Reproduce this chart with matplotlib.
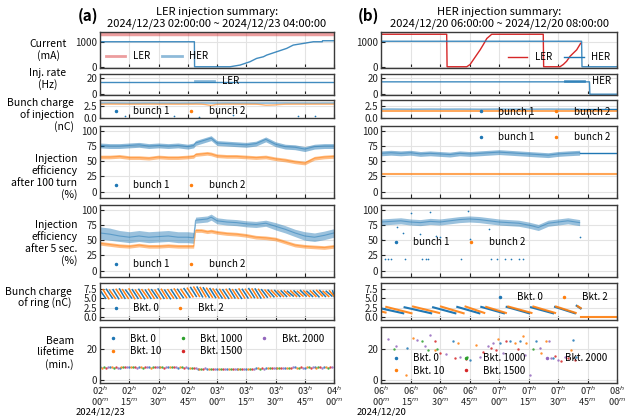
import matplotlib
matplotlib.use('Agg')
import matplotlib.pyplot as plt
import numpy as np
from matplotlib.lines import Line2D

plt.rcParams['font.family'] = ['Noto Sans CJK JP', 'DejaVu Sans']
plt.rcParams['axes.unicode_minus'] = False

C0, C1, C2, C3, C4 = '#1f77b4', '#ff7f0e', '#2ca02c', '#d62728', '#9467bd'

# ---------------- data (minutes from window start) ----------------
xtick_min = [0, 15, 30, 45, 60, 75, 90, 105, 120]
xlabels_a = ["02$^h$\n00$^m$", "02$^h$\n15$^m$", "02$^h$\n30$^m$", "02$^h$\n45$^m$",
             "03$^h$\n00$^m$", "03$^h$\n15$^m$", "03$^h$\n30$^m$", "03$^h$\n45$^m$", "04$^h$\n00$^m$"]
xlabels_b = ["06$^h$\n00$^m$", "06$^h$\n15$^m$", "06$^h$\n30$^m$", "06$^h$\n45$^m$",
             "07$^h$\n00$^m$", "07$^h$\n15$^m$", "07$^h$\n30$^m$", "07$^h$\n45$^m$", "08$^h$\n00$^m$"]

# Current (mA)
ler_cur_a_t = [0, 120]
ler_cur_a_v = [1320, 1320]
her_cur_a_t = [0, 48.4, 48.5, 66.7, 71.8, 76.9, 80.3, 83.8, 85.5, 90.6, 95.7, 99.1, 104.3, 109.4, 114.0, 114.1, 120]
her_cur_a_v = [1000, 1000, 0, 0, 67, 200, 333, 400, 467, 600, 733, 867, 933, 1000, 1000, 1040, 1040]
ler_cur_b_t = [0, 33.4, 33.6, 43.6, 45.3, 47.0, 48.7, 50.4, 52.1, 53.8, 56.3, 82.5, 82.7, 91.0, 92.7, 94.4, 96.1, 97.8, 99.5, 101.5]
ler_cur_b_v = [1300, 1300, 0, 0, 91, 286, 481, 675, 896, 1130, 1300, 1300, 0, 0, 91, 221, 416, 546, 676, 936]
her_cur_b_t = [0, 102.0, 102.2, 120]
her_cur_b_v = [1020, 1020, 0, 0]

# Injection rate (Hz)
ler_rate_a_t = [0, 120]
ler_rate_a_v = [15.6, 15.6]
her_rate_b_t = [0, 106.0, 106.2, 120]
her_rate_b_v = [15.6, 15.6, 0, 0]

# LER clouds (a)
ta = [0, 5, 10, 15, 20, 25, 30, 35, 40, 45, 48, 49, 52, 55, 57, 60, 65, 70, 75, 80, 85, 90, 95, 100, 105, 110, 115, 120]
qa_b1 = [3.15, 3.16, 3.15, 3.14, 3.15, 3.16, 3.15, 3.15, 3.14, 3.15, 3.15, 3.16, 3.17, 3.16, 3.15, 3.15, 3.16, 3.15, 3.15, 3.14, 3.15, 3.15, 3.16, 3.15, 3.15, 3.14, 3.15, 3.15]
qa_b2 = [2.92, 2.93, 2.92, 2.91, 2.92, 2.93, 2.92, 2.92, 2.91, 2.92, 2.92, 2.93, 2.90, 2.75, 2.65, 2.88, 2.92, 2.92, 2.91, 2.90, 2.70, 2.75, 2.90, 2.92, 2.91, 2.92, 2.92, 2.92]
qa_out_t = [12.8, 38.0, 51.0, 68.0, 101.7, 110.0]
qa_out_v = [0.40, 0.30, 0.20, 0.50, 0.30, 0.35]

e100a_b1 = [76, 75, 75, 76, 77, 75, 76, 75, 76, 74, 76, 80, 83, 86, 88, 80, 79, 78, 77, 79, 86, 78, 74, 73, 70, 74, 75, 75]
e100a_b2 = [57, 57, 58, 56, 56, 55, 57, 56, 56, 57, 58, 61, 62, 63, 62, 59, 58, 58, 57, 56, 57, 54, 52, 49, 47, 55, 57, 58]
e5a_b1 = [62, 60, 57, 55, 57, 55, 56, 57, 55, 55, 54, 83, 84, 85, 88, 82, 80, 79, 77, 76, 78, 73, 68, 62, 57, 55, 58, 62]
e5a_b1_sp = [10, 10, 9, 9, 9, 9, 9, 9, 9, 9, 9, 5, 5, 5, 5, 5, 5, 5, 5, 5, 5, 6, 6, 6, 7, 7, 7, 7]
e5a_b2 = [45, 43, 41, 40, 42, 40, 40, 41, 40, 40, 40, 66, 66, 64, 65, 63, 61, 60, 58, 55, 54, 52, 47, 42, 40, 39, 38, 40]

# HER clouds (b)
tb = [0, 5, 10, 15, 20, 25, 30, 35, 40, 45, 50, 55, 60, 65, 70, 75, 80, 85, 90, 95, 101]
qb_b1 = [1.85, 1.86, 1.85, 1.84, 1.85, 1.86, 1.85, 1.85, 1.86, 1.85, 1.84, 1.85, 1.86, 1.85, 1.85, 1.84, 1.85, 1.86, 1.85, 1.85, 1.85]
qb_b1_tail = 1.88
qb_b2_const = 1.50
e100b_b1 = [63, 64, 63, 64, 62, 63, 62, 61, 63, 62, 63, 64, 65, 64, 63, 62, 61, 60, 62, 63, 64]
e100b_b1_tail = 63
e100b_b2_const = 29
e5b_b1 = [80, 81, 82, 80, 79, 81, 80, 82, 84, 85, 84, 82, 80, 79, 78, 75, 71, 78, 80, 82, 79]
e5b_out_t = [2, 3.5, 5, 12, 21, 23, 24, 40.5, 56, 59, 63, 66, 70, 72, 15, 25, 44, 8, 11, 20, 28, 45, 30, 55, 101, 0]
e5b_out_v = [19.5, 19, 19.5, 19.5, 19, 19, 19.5, 19, 19.5, 19, 19, 19, 19, 19.5, 95, 97, 98, 72, 62, 60, 57, 52, 55, 68, 55, 52]

# Ring bunch charge (a): tooth start times, tops, bottoms
ra0_t = [0.0, 3.3, 6.7, 10.0, 13.2, 16.6, 19.9, 23.3, 26.5, 29.8, 33.2, 36.5, 39.8, 43.1, 46.5, 49.8, 53.0, 56.4, 59.7,
         63.0, 66.4, 69.6, 73.0, 76.3, 79.6, 82.9, 86.2, 89.6, 92.9, 96.1, 99.5, 102.8, 106.1, 109.4, 112.7, 116.0, 119.3]
ra0_top = [7.2, 7.4, 7.3, 7.5, 7.2, 7.3, 7.4, 7.2, 7.3, 7.5, 7.2, 7.3, 7.4, 7.6, 7.9, 8.0, 7.8, 7.6, 7.4,
           7.3, 7.5, 7.3, 7.4, 7.6, 7.5, 7.3, 7.2, 7.1, 7.0, 6.9, 7.0, 7.1, 6.9, 7.0, 7.1, 6.9, 7.0]
ra0_bot = [5.0, 5.1, 4.9, 5.0, 5.1, 5.0, 4.9, 5.0, 5.1, 5.0, 4.9, 5.0, 5.2, 5.3, 5.5, 5.4, 5.3, 5.2, 5.1,
           5.0, 5.1, 5.0, 5.1, 5.2, 5.1, 5.3, 5.4, 5.5, 5.5, 5.6, 5.5, 5.6, 5.5, 5.4, 5.5, 5.6, 5.5]
ra2_t = [1.6, 4.9, 8.3, 11.6, 14.9, 18.2, 21.5, 24.9, 28.2, 31.5, 34.8, 38.1, 41.5, 44.8, 48.1, 51.4, 54.7, 58.0,
         61.4, 64.7, 68.0, 71.3, 74.6, 78.0, 81.3, 84.6, 87.9, 91.2, 94.5, 97.8, 101.2, 104.5, 107.8, 111.1, 114.4, 117.7]
ra2_top = [7.3, 7.2, 7.4, 7.3, 7.5, 7.2, 7.3, 7.4, 7.2, 7.4, 7.3, 7.5, 7.4, 7.7, 8.0, 7.9, 7.7, 7.5,
           7.4, 7.4, 7.3, 7.5, 7.4, 7.5, 7.4, 7.2, 7.1, 7.0, 7.0, 7.0, 6.9, 7.0, 7.0, 7.1, 6.9, 7.0]
ra2_bot = [4.9, 5.0, 5.1, 5.0, 4.9, 5.0, 5.1, 5.0, 4.9, 5.0, 5.1, 5.0, 5.2, 5.4, 5.5, 5.4, 5.3, 5.1,
           5.0, 5.1, 5.0, 5.1, 5.2, 5.1, 5.2, 5.4, 5.5, 5.5, 5.6, 5.5, 5.6, 5.5, 5.5, 5.6, 5.5, 5.5]

# Ring bunch charge (b)
rb0_t0 = [0.0, 12.0, 26.5, 38.8, 51.0, 63.9, 76.3, 88.5, 99.5]
rb0_t1 = [11.3, 25.5, 37.8, 50.0, 62.5, 75.3, 87.5, 98.6, 101.5]
rb0_top = [2.3, 2.6, 2.6, 2.7, 2.7, 2.7, 2.6, 2.7, 3.0]
rb0_bot = [1.0, 1.0, 1.0, 1.0, 1.0, 1.0, 1.0, 1.0, 2.3]
rb2_t0 = [0.0, 2.7, 16.3, 30.5, 43.0, 53.5, 64.7, 77.5, 89.0, 100.0]
rb2_t1 = [2.3, 15.5, 29.5, 42.0, 52.5, 63.5, 76.5, 88.5, 99.0, 101.5]
rb2_top = [1.5, 2.7, 2.8, 2.8, 2.8, 2.7, 2.8, 2.8, 2.8, 2.9]
rb2_bot = [1.2, 1.0, 1.1, 1.0, 1.1, 1.1, 1.1, 1.1, 1.1, 2.4]
rb2_tail_t = [101.5, 120]
rb2_tail_v = [0.0, 0.0]

# Lifetime (a), per bucket
lt_a_t = [0, 5, 10, 15, 20, 25, 30, 35, 40, 45, 50, 55, 60, 65, 70, 75, 80, 85, 90, 95, 100, 105, 110, 115]
lt_a = {
    'Bkt. 0':    [8.2, 8.4, 8.1, 8.6, 8.3, 8.5, 8.2, 8.4, 8.0, 7.6, 7.2, 7.0, 6.9, 7.1, 7.0, 7.3, 7.6, 7.9, 7.8, 8.0, 8.2, 8.1, 8.3, 8.2],
    'Bkt. 10':   [7.9, 8.3, 8.5, 8.2, 8.7, 8.1, 8.4, 8.6, 8.2, 7.8, 7.4, 7.1, 7.0, 6.8, 7.2, 7.1, 7.5, 7.7, 8.0, 7.8, 8.1, 8.3, 8.0, 8.4],
    'Bkt. 1000': [8.4, 8.0, 8.3, 8.5, 8.1, 8.7, 8.6, 8.2, 8.3, 7.7, 7.3, 7.2, 7.1, 7.0, 6.9, 7.4, 7.4, 7.8, 7.9, 8.1, 7.9, 8.2, 8.4, 8.1],
    'Bkt. 1500': [8.1, 8.5, 8.2, 8.3, 8.6, 8.4, 8.1, 8.5, 8.1, 7.5, 7.1, 6.9, 7.2, 7.0, 7.1, 7.2, 7.7, 7.6, 8.1, 7.9, 8.3, 8.0, 8.2, 8.5],
    'Bkt. 2000': [8.3, 8.1, 8.4, 8.0, 8.4, 8.2, 8.5, 8.3, 8.4, 7.9, 7.5, 7.3, 6.8, 7.2, 7.0, 7.0, 7.3, 8.0, 7.7, 8.2, 8.0, 8.4, 8.1, 8.3],
}
lt_a_offset = {'Bkt. 0': 0.0, 'Bkt. 10': 1.0, 'Bkt. 1000': 2.0, 'Bkt. 1500': 3.0, 'Bkt. 2000': 4.0}

# Lifetime (b), sparse
lt_b = {
    'Bkt. 0':    ([13.1, 36.6, 45.0, 60.3, 65.4, 70.5, 79.0, 87.5, 97.6, 99.4],
                  [20.7, 25.1, 12.9, 24.0, 25.1, 25.6, 25.6, 14.0, 26.2, 15.1]),
    'Bkt. 10':   ([12.8, 16.2, 27.3, 39.2, 48.4, 59.4, 67.9, 72.2, 73.9, 81.5, 84.1, 96.8],
                  [3.3, 27.3, 19.6, 24.0, 22.9, 26.7, 24.0, 28.4, 24.0, 17.3, 25.1, 19.6]),
    'Bkt. 1000': ([6.8, 20.6, 24.0, 28.5, 43.7, 77.3],
                  [20.0, 25.1, 19.6, 20.0, 15.1, 20.0]),
    'Bkt. 1500': ([27.3, 29.9, 37.5, 43.0, 51.8, 55.7, 58.3, 63.7, 69.6, 88.3, 91.7, 95.1, 98.5],
                  [25.6, 17.3, 14.4, 13.6, 18.0, 20.7, 19.6, 25.1, 20.0, 15.8, 12.4, 14.0, 12.9]),
    'Bkt. 2000': ([3.7, 7.7, 18.1, 22.3, 24.8, 33.3, 40.0, 50.1, 54.4, 56.9, 62.0, 73.0, 75.9, 80.7, 85.4, 86.6, 90.0, 93.4],
                  [26.7, 22.0, 26.2, 21.8, 29.1, 16.9, 14.7, 14.9, 21.8, 24.0, 17.3, 16.2, 2.9, 20.7, 25.1, 14.4, 12.9, 14.7]),
}
bkt_colors = {'Bkt. 0': C0, 'Bkt. 10': C1, 'Bkt. 1000': C2, 'Bkt. 1500': C3, 'Bkt. 2000': C4}

# ---------------- layout ----------------
W, H = 628, 416
fig = plt.figure(figsize=(W / 100, H / 100), dpi=100)
rows = [(32, 68), (74, 95), (100, 118), (126, 198), (205, 277), (283, 320), (327, 383)]
cols = [(100, 334), (381, 617)]
ylims = [(-50, 1390), (-1, 25.5), (-0.1, 3.75), (-10.5, 108), (-10.5, 108), (-0.8, 9.1), (-2, 34.5)]
yticks = [[0, 1000], [0, 20], [0.0, 2.5], [0, 25, 50, 75, 100], [0, 25, 50, 75, 100],
          [0.0, 2.5, 5.0, 7.5], [0, 20]]
ytl = [['0', '1000'], ['0', '20'], ['0.0', '2.5'], ['0', '25', '50', '75', '100'], ['0', '25', '50', '75', '100'],
       ['0.0', '2.5', '5.0', '7.5'], ['0', '20']]

axes = [[None] * 7 for _ in range(2)]
for c in range(2):
    for r in range(7):
        x0, x1 = cols[c]
        y0, y1 = rows[r]
        ax = fig.add_axes([x0 / W, 1 - y1 / H, (x1 - x0) / W, (y1 - y0) / H])
        ax.set_xlim(0, 120)
        ax.set_ylim(*ylims[r])
        ax.set_xticks(xtick_min)
        ax.set_yticks(yticks[r])
        ax.set_yticklabels(ytl[r])
        ax.grid(True, color='#e3e3e3', lw=0.8)
        ax.set_axisbelow(True)
        for s in ax.spines.values():
            s.set_color('#3a3a3a')
            s.set_linewidth(1.0)
        ax.tick_params(direction='in', length=3, width=0.8, labelsize=7, colors='#222222', pad=2)
        if r < 6:
            ax.set_xticklabels([])
        else:
            ax.tick_params(axis='x', pad=1.5)
            ax.set_xticklabels(xlabels_a if c == 0 else xlabels_b, fontsize=6.6, linespacing=0.8)
        axes[c][r] = ax


def leg(ax, handles, labels, x_text, y, ncol):
    ax.legend(handles, labels, loc='center left', bbox_to_anchor=((x_text - 27) / W, 1 - y / H),
              bbox_transform=fig.transFigure, ncol=ncol, frameon=False, fontsize=7, borderpad=0,
              borderaxespad=0, handlelength=2.0, handletextpad=0.8, columnspacing=1.2, labelspacing=0.25)


def mk(color):
    return Line2D([], [], marker='.', ls='none', color=color, markersize=3)


def cloud(ax, t, v, sp, color, alpha=0.5):
    t = np.asarray(t, float)
    v = np.asarray(v, float)
    sp = np.broadcast_to(np.asarray(sp, float), v.shape)
    ax.fill_between(t, v - sp, v + sp, color=color, alpha=alpha, lw=0)
    ax.plot(t, v, color=color, lw=0.8, alpha=0.5)


# Row 1: current
ax = axes[0][0]
ax.plot(ler_cur_a_t, ler_cur_a_v, color=C3, lw=2.5, alpha=0.45)
ax.plot(her_cur_a_t, her_cur_a_v, color=C0, lw=1.0, alpha=0.85)
leg(ax, [Line2D([], [], color=C3, lw=2, alpha=0.45), Line2D([], [], color=C0, lw=2, alpha=0.5)],
    ['LER', 'HER'], 133, 56, 2)
ax = axes[1][0]
ax.plot(ler_cur_b_t, ler_cur_b_v, color=C3, lw=1.0)
ax.plot(her_cur_b_t, her_cur_b_v, color=C0, lw=1.0, alpha=0.85)
leg(ax, [Line2D([], [], color=C3, lw=1), Line2D([], [], color=C0, lw=1)], ['LER', 'HER'], 535, 57, 2)

# Row 2: injection rate
ax = axes[0][1]
ax.plot(ler_rate_a_t, ler_rate_a_v, color=C0, lw=1.0, alpha=0.85)
leg(ax, [Line2D([], [], color=C0, lw=2, alpha=0.5)], ['LER'], 222, 81, 1)
ax = axes[1][1]
ax.plot(her_rate_b_t, her_rate_b_v, color=C0, lw=1.0, alpha=0.85)
leg(ax, [Line2D([], [], color=C0, lw=2, alpha=0.7)], ['HER'], 592, 81, 1)

# Row 3: bunch charge of injection
ax = axes[0][2]
cloud(ax, ta, qa_b1, 0.08, C0)
cloud(ax, ta, qa_b2, 0.08, C1)
ax.scatter(qa_out_t, qa_out_v, s=1.5, color=C0, lw=0)
leg(ax, [mk(C0), mk(C1)], ['bunch 1', 'bunch 2'], 133, 111, 2)
ax = axes[1][2]
cloud(ax, tb, qb_b1, 0.1, C0)
ax.plot([tb[-1], 120], [qb_b1_tail, qb_b1_tail], color=C0, lw=1.0)
ax.plot([0, 120], [qb_b2_const, qb_b2_const], color=C1, lw=1.2, alpha=0.8)
leg(ax, [mk(C0), mk(C1)], ['bunch 1', 'bunch 2'], 498, 111.7, 2)

# Row 4: injection efficiency after 100 turn
ax = axes[0][3]
cloud(ax, ta, e100a_b1, 4, C0)
cloud(ax, ta, e100a_b2, 3, C1)
leg(ax, [mk(C0), mk(C1)], ['bunch 1', 'bunch 2'], 133, 185, 2)
ax = axes[1][3]
cloud(ax, tb, e100b_b1, 4, C0)
ax.plot([tb[-1], 120], [e100b_b1_tail, e100b_b1_tail], color=C0, lw=1.0)
ax.plot([0, 120], [e100b_b2_const, e100b_b2_const], color=C1, lw=1.5, alpha=0.7)
leg(ax, [mk(C0), mk(C1)], ['bunch 1', 'bunch 2'], 498, 137, 2)

# Row 5: injection efficiency after 5 sec
ax = axes[0][4]
cloud(ax, ta, e5a_b1, e5a_b1_sp, C0, alpha=0.45)
cloud(ax, ta, e5a_b2, 3, C1)
leg(ax, [mk(C0), mk(C1)], ['bunch 1', 'bunch 2'], 133, 264, 2)
ax = axes[1][4]
cloud(ax, tb, e5b_b1, 5, C0, alpha=0.45)
ax.scatter(e5b_out_t, e5b_out_v, s=1.5, color=C0, lw=0)
leg(ax, [mk(C0), mk(C1)], ['bunch 1', 'bunch 2'], 413, 242, 2)

# Row 6: bunch charge of ring
ax = axes[0][5]
ends0 = ra0_t[1:] + [120.5]
for t0, t1, a, b in zip(ra0_t, ends0, ra0_top, ra0_bot):
    ax.plot([t0, t1 - 0.4], [a, b], color=C0, lw=1.1)
ends2 = ra2_t[1:] + [120.5]
for t0, t1, a, b in zip(ra2_t, ends2, ra2_top, ra2_bot):
    ax.plot([t0, t1 - 0.4], [a, b], color=C1, lw=1.1)
leg(ax, [mk(C0), mk(C1)], ['Bkt. 0', 'Bkt. 2'], 133, 308, 2)
ax = axes[1][5]
for t0, t1, a, b in zip(rb0_t0, rb0_t1, rb0_top, rb0_bot):
    ax.plot([t0, t1], [a, b], color=C0, lw=1.5)
for t0, t1, a, b in zip(rb2_t0, rb2_t1, rb2_top, rb2_bot):
    ax.plot([t0, t1], [a, b], color=C1, lw=1.5, alpha=0.9)
ax.plot(rb2_tail_t, rb2_tail_v, color=C1, lw=1.5, alpha=0.9)
leg(ax, [mk(C0), mk(C1)], ['Bkt. 0', 'Bkt. 2'], 517, 297, 2)

# Row 7: beam lifetime
names = ['Bkt. 0', 'Bkt. 10', 'Bkt. 1000', 'Bkt. 1500', 'Bkt. 2000']
ax = axes[0][6]
for n in names:
    ax.scatter(np.asarray(lt_a_t) + lt_a_offset[n], lt_a[n], s=3, color=bkt_colors[n], lw=0, alpha=0.85)
leg(ax, [mk(bkt_colors[n]) for n in names], names, 130, 345, 3)
ax = axes[1][6]
for n in names:
    ax.scatter(lt_b[n][0], lt_b[n][1], s=3, color=bkt_colors[n], lw=0, alpha=0.85)
leg(ax, [mk(bkt_colors[n]) for n in names], names, 413, 364.5, 3)

# ---------------- labels & titles ----------------
ylabels = [("Current\n(mA)", 48, 50, 'center', 'center'),
           ("Inj. rate\n(Hz)", 48, 79, 'center', 'center'),
           ("Bunch charge\nof injection\n(nC)", 74, 115, 'right', 'right'),
           ("Injection\nefficiency\nafter 100 turn\n(%)", 77, 177, 'right', 'right'),
           ("Injection\nefficiency\nafter 5 sec.\n(%)", 77, 243, 'right', 'right'),
           ("Bunch charge\nof ring (nC)", 72, 298, 'right', 'right'),
           ("Beam\nlifetime\n(min.)", 74, 353, 'right', 'right')]
for txt, x, y, ha, ma in ylabels:
    fig.text(x / W, 1 - y / H, txt, ha=ha, va='center', multialignment=ma, fontsize=7.5, linespacing=1.15)

fig.text(217 / W, 1 - 18 / H, "LER injection summary:\n2024/12/23 02:00:00 ~ 2024/12/23 04:00:00",
         ha='center', va='center', fontsize=8, linespacing=1.1)
fig.text(499 / W, 1 - 18 / H, "HER injection summary:\n2024/12/20 06:00:00 ~ 2024/12/20 08:00:00",
         ha='center', va='center', fontsize=8, linespacing=1.1)
fig.text(88 / W, 1 - 16 / H, "(a)", ha='center', va='center', fontsize=11, fontweight='bold')
fig.text(368 / W, 1 - 16 / H, "(b)", ha='center', va='center', fontsize=11, fontweight='bold')
fig.text(100 / W, 1 - 411.5 / H, "2024/12/23", ha='center', va='center', fontsize=6.8)
fig.text(382 / W, 1 - 411.5 / H, "2024/12/20", ha='center', va='center', fontsize=6.8)

fig.savefig('out.png', dpi=100)
